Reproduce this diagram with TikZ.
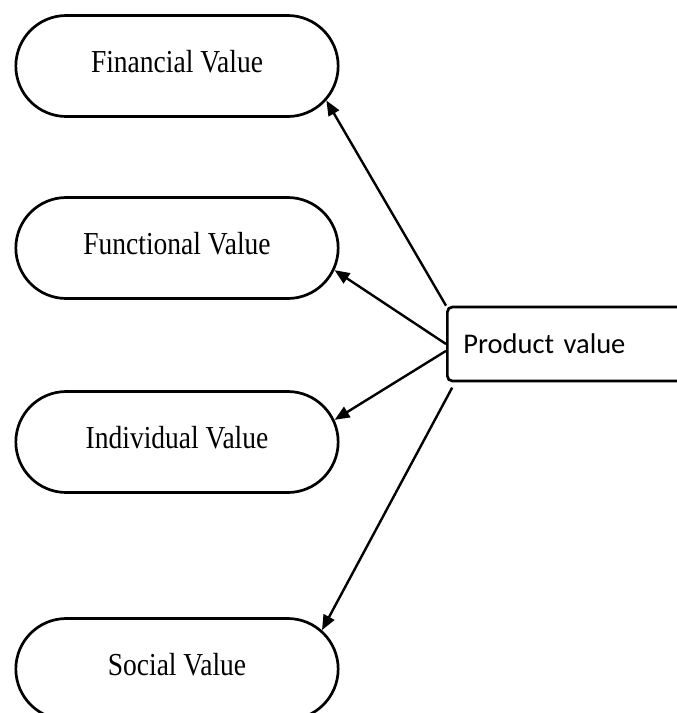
\documentclass[tikz,border=0pt]{standalone}
\usepackage{fontspec}
\setmainfont{Liberation Serif}
\newfontfamily\valuefont[FakeStretch=0.86]{Liberation Serif}
\newfontfamily\boxfont{Carlito}
\usetikzlibrary{shapes.misc,arrows.meta,calc}

\begin{document}
\begin{tikzpicture}[x=1pt,y=-1pt,
  valuenode/.style={rounded rectangle, draw, line width=2.7pt,
    minimum width=329pt, minimum height=101pt, text depth=9pt,
    font=\valuefont\fontsize{32}{36}\selectfont},
  prodbox/.style={draw, line width=2.7pt, rounded corners=5pt, anchor=west,
    minimum height=74pt, text width=228pt, inner xsep=16pt, align=left,
    font=\boxfont\fontsize{28.5}{32}\selectfont},
  link/.style={line width=2.4pt, -{Triangle[length=15pt,width=12pt]}}]
\useasboundingbox (0,0) rectangle (677,713);
\clip (0,0) rectangle (677,713);

% the four value kinds
\node[valuenode] (fin) at (177,66)  {Financial Value};
\node[valuenode] (fun) at (177,248) {Functional Value};
\node[valuenode] (ind) at (177,442) {Individual Value};
\node[valuenode] (soc) at (177,669) {Social Value};

% source box, running off the right edge
\node[prodbox] (prod) at (446,344) {Product value};

% connectors from the source box
\draw[link] (prod.north west) -- (fin.-13.5);
\draw[link] (prod.west) -- (fun.-8);
\draw[link] (prod.183.5) -- (ind.8);
\draw[link, shorten <=6pt] ($(prod.south west)+(9,0)$) -- (soc.15.6);
\end{tikzpicture}
\end{document}
